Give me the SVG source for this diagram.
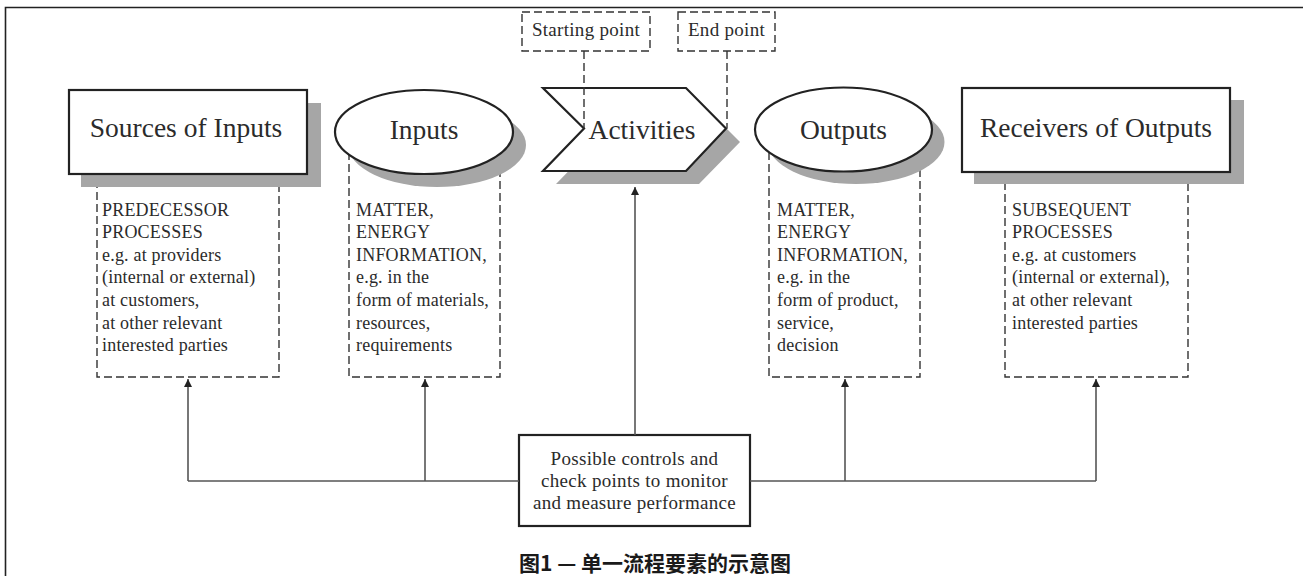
<svg xmlns="http://www.w3.org/2000/svg" width="1303" height="576" viewBox="0 0 1303 576">
<defs>
<style>
.main{font-family:"Liberation Serif","Times New Roman",serif;font-size:27.5px;fill:#2b2b2b;text-anchor:middle}
.small{font-family:"Liberation Serif","Times New Roman",serif;font-size:18px;letter-spacing:0.2px;fill:#2b2b2b}
.mid{font-family:"Liberation Serif","Times New Roman",serif;font-size:19px;letter-spacing:0.3px;fill:#2b2b2b;text-anchor:middle}
.box{fill:#fff;stroke:#222;stroke-width:2.2}
.shadow{fill:#a6a6a6;stroke:none}
.dash{fill:none;stroke:#333;stroke-width:1.4;stroke-dasharray:8 4}
.conn{fill:none;stroke:#555;stroke-width:1.6}
.cap{font-family:"Noto Sans CJK SC","Noto Sans",sans-serif;font-size:21px;font-weight:bold;fill:#1a1a1a;text-anchor:middle}
</style>
<marker id="arr" viewBox="0 0 10 10" refX="10" refY="5" markerWidth="10" markerHeight="8" markerUnits="userSpaceOnUse" orient="auto">
<path d="M0,0 L10,5 L0,10 z" fill="#222"/>
</marker>
</defs>
<rect width="1303" height="576" fill="#fff"/>
<path d="M5.5,576 V7.5 H1303" fill="none" stroke="#222" stroke-width="1.6"/>

<g id="detail-sources">
<rect class="dash" x="97" y="150" width="182" height="227"/>
<text class="small"><tspan x="102" y="215.7">PREDECESSOR</tspan><tspan x="102" y="238.3">PROCESSES</tspan><tspan x="102" y="260.8">e.g. at providers</tspan><tspan x="102" y="283.4">(internal or external)</tspan><tspan x="102" y="305.9">at customers,</tspan><tspan x="102" y="328.5">at other relevant</tspan><tspan x="102" y="351">interested parties</tspan></text>
</g>
<g id="detail-inputs">
<rect class="dash" x="349" y="140" width="151" height="237"/>
<text class="small"><tspan x="356" y="215.7">MATTER,</tspan><tspan x="356" y="238.3">ENERGY</tspan><tspan x="356" y="260.8">INFORMATION,</tspan><tspan x="356" y="283.4">e.g. in the</tspan><tspan x="356" y="305.9">form of materials,</tspan><tspan x="356" y="328.5">resources,</tspan><tspan x="356" y="351">requirements</tspan></text>
</g>
<g id="detail-outputs">
<rect class="dash" x="769" y="140" width="151" height="237"/>
<text class="small"><tspan x="777" y="215.7">MATTER,</tspan><tspan x="777" y="238.3">ENERGY</tspan><tspan x="777" y="260.8">INFORMATION,</tspan><tspan x="777" y="283.4">e.g. in the</tspan><tspan x="777" y="305.9">form of product,</tspan><tspan x="777" y="328.5">service,</tspan><tspan x="777" y="351">decision</tspan></text>
</g>
<g id="detail-receivers">
<rect class="dash" x="1005" y="150" width="183" height="227"/>
<text class="small"><tspan x="1012" y="215.7">SUBSEQUENT</tspan><tspan x="1012" y="238.3">PROCESSES</tspan><tspan x="1012" y="260.8">e.g. at customers</tspan><tspan x="1012" y="283.4">(internal or external),</tspan><tspan x="1012" y="305.9">at other relevant</tspan><tspan x="1012" y="328.5">interested parties</tspan></text>
</g>

<g id="sources">
<rect class="shadow" x="81" y="103" width="240" height="84"/>
<rect class="box" x="69" y="90" width="238" height="84"/>
<text class="main" x="186" y="137">Sources of Inputs</text>
</g>
<g id="inputs">
<ellipse class="shadow" cx="437" cy="145" rx="89" ry="42"/>
<ellipse class="box" cx="424" cy="132" rx="89" ry="42"/>
<text class="main" x="424" y="139">Inputs</text>
</g>
<g id="activities">
<polygon class="shadow" points="556,101 699,101 740,142 699,184 556,184 597,142"/>
<polygon class="box" points="543,88 686,88 726,128.5 686,171 543,171 584,128.5"/>
<text class="main" x="642" y="139">Activities</text>
</g>
<g id="outputs">
<ellipse class="shadow" cx="856" cy="142" rx="88.5" ry="42"/>
<ellipse class="box" cx="843.5" cy="129.5" rx="88.5" ry="42"/>
<text class="main" x="843.5" y="139">Outputs</text>
</g>
<g id="receivers">
<rect class="shadow" x="974" y="100" width="270" height="84"/>
<rect class="box" x="962" y="88" width="268" height="84"/>
<text class="main" x="1096" y="137">Receivers of Outputs</text>
</g>
<g id="starting-point">
<rect class="dash" x="522" y="12" width="128" height="39"/>
<text class="mid" x="586" y="36">Starting point</text>
</g>
<g id="end-point">
<rect class="dash" x="678" y="12" width="97" height="39"/>
<text class="mid" x="726.5" y="36">End point</text>
</g>
<g id="controls">
<rect class="box" x="519" y="435" width="231" height="91"/>
<text class="mid"><tspan x="634.5" y="465">Possible controls and</tspan><tspan x="634.5" y="487">check points to monitor</tspan><tspan x="634.5" y="509">and measure performance</tspan></text>
</g>

<g id="connectors">
<line class="dash" x1="584" y1="51" x2="584" y2="128.5"/>
<line class="dash" x1="727" y1="51" x2="727" y2="128.5"/>
<line class="conn" x1="635" y1="435" x2="635" y2="187" marker-end="url(#arr)"/>
<line class="conn" x1="188" y1="481" x2="519" y2="481"/>
<line class="conn" x1="750" y1="481" x2="1096" y2="481"/>
<line class="conn" x1="188" y1="481" x2="188" y2="379" marker-end="url(#arr)"/>
<line class="conn" x1="425" y1="481" x2="425" y2="379" marker-end="url(#arr)"/>
<line class="conn" x1="845" y1="481" x2="845" y2="379" marker-end="url(#arr)"/>
<line class="conn" x1="1096" y1="481" x2="1096" y2="379" marker-end="url(#arr)"/>
</g>

<text class="cap" x="655" y="571">图1 — 单一流程要素的示意图</text>
</svg>
